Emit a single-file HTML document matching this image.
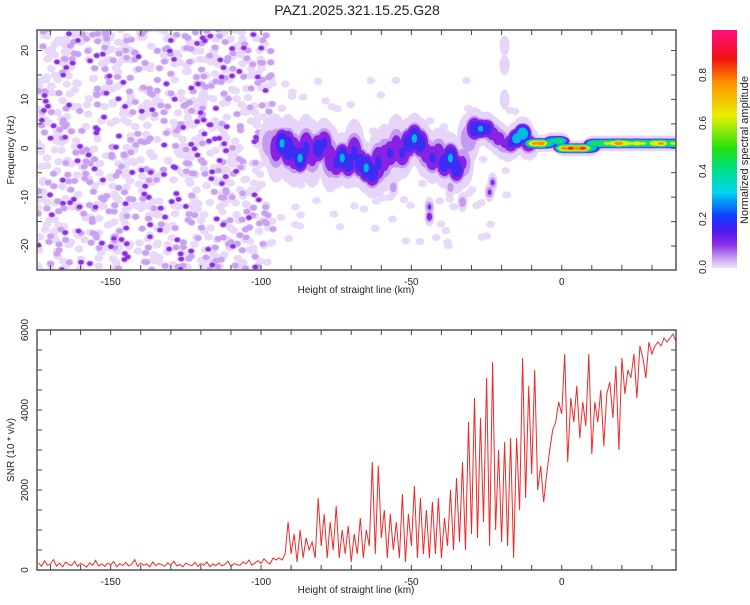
<!DOCTYPE html>
<html><head><meta charset="utf-8"><style>
body{margin:0;background:#fff;}
svg text{font-family:"Liberation Sans",sans-serif;fill:#222;}
</style></head><body>
<svg id="chart" width="750" height="600" xmlns="http://www.w3.org/2000/svg">
<defs>
<linearGradient id="cbar" x1="0" y1="1" x2="0" y2="0">
<stop offset="0" stop-color="#ecdffa"/><stop offset="0.04" stop-color="#c9a3f2"/>
<stop offset="0.1" stop-color="#8a2be8"/><stop offset="0.16" stop-color="#4a18f0"/>
<stop offset="0.22" stop-color="#1040ff"/><stop offset="0.32" stop-color="#00d8f0"/>
<stop offset="0.42" stop-color="#00e080"/><stop offset="0.5" stop-color="#20e010"/>
<stop offset="0.64" stop-color="#e8f000"/><stop offset="0.78" stop-color="#ff9000"/>
<stop offset="0.88" stop-color="#f01010"/><stop offset="1" stop-color="#ff1080"/>
</linearGradient>
<clipPath id="topclip"><rect x="37" y="30" width="639" height="240"/></clipPath>
<clipPath id="botclip"><rect x="37" y="330" width="639" height="240"/></clipPath>
</defs>
<text x="357" y="15" font-size="14" text-anchor="middle">PAZ1.2025.321.15.25.G28</text>
<g id="spec" clip-path="url(#topclip)"></g>
<g id="snr" clip-path="url(#botclip)"></g>
<g id="axes"></g>
<rect x="712" y="30" width="25" height="238" fill="url(#cbar)"/>
<text transform="translate(748,150) rotate(-90)" font-size="11" text-anchor="middle">Normalized spectral amplitude</text>
</svg>
<script>
// ---- data ----
const xDomain=[-174.5,38];
const freqDomain=[-24.9,24.2];
const snrDomain=[0,6000];
const xTicks=[-150,-100,-50,0];
const freqTicks=[-20,-10,0,10,20];
const snrTicks=[0,2000,4000,6000];
const cbTicks=[0,0.2,0.4,0.6,0.8];
// ridge of the spectrogram
const ridgeKm=[-97,-95,-93,-91,-89,-87,-85,-83,-81,-79,-77,-75,-73,-71,-69,-67,-65,-63,-61,-59,-57,-55,-53,-51,-49,-47,-45,-43,-41,-39,-37,-35,-33,-31,-29,-27,-25,-23,-21,-19,-17,-15,-13,-11,-9,-7,-5,-3,-1,1,3,5,7,9,11,13,15,17,19,21,23,25,27,29,31,33,35,37];
const ridgeHz=[1,0,1,0,-1,-2,0,-1,0,1,-2,-3,-2,-3,-1,-3,-4,-5,-3,-2,-1,0,-1,1,2,1,-1,-2,-1,-3,-2,-4,-3,2,4,4,4,3,2,1,1,2,3,1,1,1,1,1.5,1.5,0,0,0,0,0,1,1,1,1,1,1,1,1,1,1,1,1,1,1];
const ridgeAmp=[0.1,0.15,0.3,0.25,0.2,0.3,0.2,0.15,0.25,0.2,0.15,0.2,0.3,0.25,0.2,0.25,0.3,0.25,0.2,0.15,0.2,0.15,0.2,0.25,0.3,0.25,0.15,0.2,0.15,0.25,0.3,0.25,0.12,0.1,0.25,0.3,0.25,0.15,0.15,0.12,0.2,0.35,0.4,0.2,0.8,0.85,0.5,0.45,0.5,0.85,0.9,0.85,0.9,0.5,0.55,0.6,0.65,0.7,0.85,0.75,0.65,0.7,0.65,0.6,0.75,0.8,0.6,0.65];
const ridgeBw=[3,4,3,4,4,3,4,4,3,3,4,3,3,3,4,3,3,3,4,4,3,4,3,3,3,3,3,3,3,3,3,3,3,3,2.5,2,2,2,2,2,2,2,2,2,1.3,1.3,1.3,1.3,1.3,1.2,1.2,1.2,1.2,1.2,1.2,1.2,1.2,1.2,1.2,1.2,1.2,1.2,1.2,1.2,1.2,1.2,1.2,1.2];
// isolated features
const spotKm=[-44,-44,-23,-24,-33,-19,-19,-19,-37,-56];
const spotHz=[-12,-14,-7,-9,-11,21,17,10,-8,-8];
const spotAmp=[0.12,0.15,0.12,0.12,0.1,0.04,0.04,0.04,0.08,0.09];
// SNR series, 1 km spacing from -174
const snrStartKm=-174;
const snrValues=[180,90,230,120,150,260,100,170,80,200,140,110,220,90,160,130,70,180,120,240,100,150,90,170,130,210,80,160,110,190,100,140,260,90,170,120,150,80,200,110,160,130,90,180,120,220,100,140,80,170,130,110,190,90,160,120,200,80,150,110,180,100,140,220,90,160,130,120,200,150,250,120,180,230,160,280,200,150,300,250,
300,250,400,1200,400,900,200,1000,300,800,500,700,300,1800,600,1400,300,1200,500,1600,300,1000,400,1100,200,900,400,1300,300,1000,600,2700,400,2600,800,1500,300,1400,500,1200,300,1900,200,1400,600,2100,300,1800,400,1500,300,1700,400,1800,300,1300,600,2000,500,2300,700,2700,500,3700,900,4300,800,3800,1200,4800,600,5200,1000,3000,700,3200,600,3300,300,3300,1500,5300,1800,4600,2400,5000,2000,2600,1700,2400,3000,3500,3700,4200,3900,5400,2700,4300,3700,4600,3300,4200,3600,5400,2900,4200,3700,4500,3100,4400,4700,3800,5100,3000,5300,4400,5000,4800,5400,4300,5600,5300,4800,5700,5400,5600,5700,5600,5800,5700,5800,5900,5700,6000,5600];

// ---- scales ----
const X0=37,X1=676,TY0=30,TY1=270,BY0=330,BY1=570;
const sx=v=>X0+(v-xDomain[0])/(xDomain[1]-xDomain[0])*(X1-X0);
const sf=v=>TY1-(v-freqDomain[0])/(freqDomain[1]-freqDomain[0])*(TY1-TY0);
const ss=v=>BY1-(v-snrDomain[0])/(snrDomain[1]-snrDomain[0])*(BY1-BY0);
const NS='http://www.w3.org/2000/svg';
function mk(tag,attrs,parent){const e=document.createElementNS(NS,tag);for(const k in attrs)e.setAttribute(k,attrs[k]);parent.appendChild(e);return e;}
const levels=[0.0,0.04,0.1,0.18,0.28,0.42,0.6,0.75,0.86];
const lcol=['#e6d4f9','#c39bf0','#8a22e6','#3d2cf2','#00b8e8','#10e060','#e0ee10','#ff8a00','#f01414'];
const spec=document.getElementById('spec');

// background noise texture (deterministic hash, not data)
let seed=12345;function rnd(){seed=(seed*1103515245+12345)%2147483648;return seed/2147483648;}
const noiseG=mk('g',{},spec);


const blobs=[];
for(let i=0;i<1100;i++){blobs.push([xDomain[0]+rnd()*(-96-xDomain[0]),freqDomain[0]+rnd()*50,rnd()]);}
for(let i=0;i<90;i++){blobs.push([-100+rnd()*85,-20+rnd()*34,rnd()*0.4]);}
[0,1,2].forEach(L=>{blobs.forEach(b=>{const a=b[2];if(L===1&&a<0.55)return;if(L===2&&a<0.88)return;
 const r=L===0?3.6:L===1?2.8:2.2;
 mk('ellipse',{cx:sx(b[0]),cy:sf(b[1]),rx:r*1.2,ry:r,fill:L===0?'#e8d8f9':L===1?'#c8a2f1':'#8c2ee6'},noiseG);});});

// ridge + spots, layer-major
const ridgeG=mk('g',{},spec);


const pts=[];
ridgeKm.forEach((k,i)=>pts.push([k,ridgeHz[i],ridgeAmp[i],ridgeBw[i],3]));
spotKm.forEach((k,i)=>pts.push([k,spotHz[i],spotAmp[i],1.5,1.3]));
levels.forEach((lv,L)=>{pts.forEach(p=>{const a=p[2];if(a<lv)return;
 const f=L===0?1.35:Math.sqrt(1-lv/a)*1.05;
 const wide=(a<0.45&&p[4]>2)?1.3:1;
 const rx=(p[4]*3.2)*(L===0?1.2:f)*(a>0.45&&L>0?1.2:1);
 const ry=p[3]*4.9*f*(L===0?1:0.85)*wide;
 const e=mk('ellipse',{cx:sx(p[0]),cy:sf(p[1]),rx:rx,ry:ry,fill:lcol[L]},ridgeG);
 
 });});

// SNR line
const snrG=document.getElementById('snr');
let d='';snrValues.forEach((v,i)=>{d+=(i?'L':'M')+sx(snrStartKm+i).toFixed(1)+','+ss(v).toFixed(1);});
const line=mk('path',{d:d,fill:'none',stroke:'#ee2a2a','stroke-width':1},snrG);



// axes
const ax=document.getElementById('axes');
function frame(y0,y1,yt,ys,ytMinor,name){
 const r=mk('rect',{x:X0,y:y0,width:X1-X0,height:y1-y0,fill:'none',stroke:'#555','stroke-width':1.5},ax);
 
 
 for(let k=-170;k<=30;k+=10){const x=sx(k);mk('line',{x1:x,x2:x,y1:y0,y2:y0+5,stroke:'#444'},ax);mk('line',{x1:x,x2:x,y1:y1,y2:y1-5,stroke:'#444'},ax);}
 ytMinor.forEach(v=>{const y=ys(v);mk('line',{x1:X0,x2:X0+5,y1:y,y2:y,stroke:'#444'},ax);mk('line',{x1:X1,x2:X1-5,y1:y,y2:y,stroke:'#444'},ax);});
 xTicks.forEach(v=>{const t=mk('text',{x:sx(v),y:y1+15,'font-size':10,'text-anchor':'middle'},ax);t.textContent=v;
  
  });
 yt.forEach(v=>{const t=mk('text',{transform:`translate(28,${ys(v)}) rotate(-90)`,'font-size':10,'text-anchor':'middle'},ax);t.textContent=v;
  
  });
 const xt=mk('text',{x:356,y:y1+23,'font-size':10,'text-anchor':'middle'},ax);xt.textContent='Height of straight line (km)';
 
 
}
const fMinor=[];for(let v=-20;v<=20;v+=5)fMinor.push(v);
const sMinor=[];for(let v=0;v<=6000;v+=500)sMinor.push(v);
frame(TY0,TY1,freqTicks,sf,fMinor,'spectrogram');
frame(BY0,BY1,snrTicks,ss,sMinor,'snr');
const yt1=mk('text',{transform:'translate(14,150) rotate(-90)','font-size':10,'text-anchor':'middle'},ax);yt1.textContent='Frequency (Hz)';


const yt2=mk('text',{transform:'translate(14,450) rotate(-90)','font-size':10,'text-anchor':'middle'},ax);yt2.textContent='SNR (10 * v/v)';


cbTicks.forEach(v=>{const t=mk('text',{transform:`translate(706,${267-v*240}) rotate(-90)`,'font-size':10,'text-anchor':'middle'},ax);t.textContent=v.toFixed(1);
 
 });
</script>
</body></html>
